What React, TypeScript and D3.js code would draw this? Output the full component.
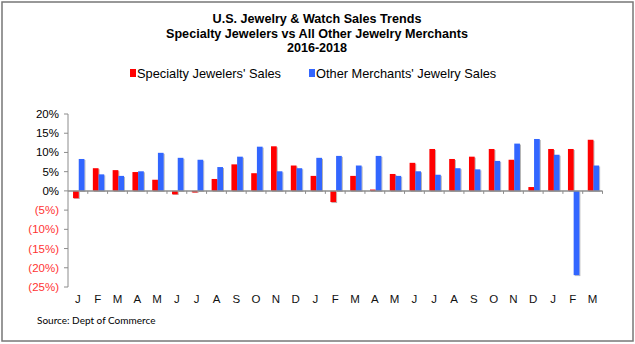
import React from "react";
import * as d3 from "d3";

const months = ["J","F","M","A","M","J","J","A","S","O","N","D","J","F","M","A","M","J","J","A","S","O","N","D","J","F","M"];
const specialty = [-1.9,5.9,5.4,4.9,2.9,-0.9,-0.4,3.1,6.9,4.6,11.6,6.6,3.9,-2.9,3.9,0.35,4.4,7.3,10.9,8.3,8.9,10.9,8.1,1.0,10.9,10.9,13.3];
const others = [8.3,4.3,3.9,5.1,9.9,8.6,8.1,6.2,8.9,11.5,5.1,5.9,8.6,9.1,6.6,9.1,3.9,5.1,4.2,5.9,5.6,7.8,12.3,13.5,9.4,-21.9,6.6];
const yTicks = [20,15,10,5,0,-5,-10,-15,-20,-25];
const titleLines = ["U.S. Jewelry & Watch Sales Trends","Specialty Jewelers vs All Other Jewelry Merchants","2016-2018"];
const seriesNames = ["Specialty Jewelers' Sales","Other Merchants' Jewelry Sales"];
const seriesColors = ["#FF0000","#3366FF"];

export default function App() {
  const W = 635, H = 344;
  const x0 = 68, x1 = 602.5;
  const idx = months.map((_, i) => i);
  const x = d3.scaleBand<number>().domain(idx).range([x0, x1]).paddingInner(0).paddingOuter(0);
  const inner = d3.scaleBand<number>().domain([0,1]).range([0, x.bandwidth()]).paddingInner(0).paddingOuter(0.74).align(0.6);
  const y = d3.scaleLinear().domain([-25, 20]).range([287, 114]);
  const y0 = y(0);
  const fmt = (v: number) => v < 0 ? `(${-v}%)` : `${v}%`;
  const axisColor = "#8c8c8c";
  const series = [specialty, others];

  return (
    <svg width={W} height={H} style={{position:"absolute", left:0, top:0}} xmlns="http://www.w3.org/2000/svg">
      <defs>
        <filter id="sh" x="-50%" y="-10%" width="200%" height="120%">
          <feDropShadow dx="1" dy="1" stdDeviation="0.7" floodColor="#000" floodOpacity="0.3" />
        </filter>
      </defs>
      <rect x={0} y={0} width={W} height={H} fill="#fff" />
      <rect x={2} y={2} width={631} height={339} fill="none" stroke="#777" strokeWidth={1.5} />
      {titleLines.map((t, i) => (
        <text key={i} x={317} y={23 + i * 14.5} textAnchor="middle" fontFamily="'Liberation Sans', Arial, sans-serif" fontWeight="bold" fontSize={12.6} fill="#000">{t}</text>
      ))}
      {/* legend */}
      <g fontFamily="'Liberation Sans', Arial, sans-serif" fontSize={12.8} fill="#000">
        <rect x={130} y={69} width={6} height={8} fill={seriesColors[0]} />
        <text x={137} y={78}>{seriesNames[0]}</text>
        <rect x={309} y={69} width={6} height={8} fill={seriesColors[1]} />
        <text x={316} y={78}>{seriesNames[1]}</text>
      </g>
      {/* y axis */}
      <line x1={x0} x2={x0} y1={y(20)} y2={y(-25)} stroke={axisColor} strokeWidth={1} />
      {yTicks.map(t => (
        <g key={t}>
          <line x1={x0 - 4} x2={x0} y1={y(t)} y2={y(t)} stroke={axisColor} />
          <text x={59} y={y(t) + 4} textAnchor="end" fontFamily="'Liberation Sans', Arial, sans-serif" fontSize={11.5} fill={t < 0 ? "#FF3333" : "#000"}>{fmt(t)}</text>
        </g>
      ))}
      {/* bars */}
      {idx.map(i => (
        <g key={i} transform={`translate(${x(i)},0)`}>
          {series.map((s, k) => {
            const v = s[i];
            return <rect key={k} x={inner(k)} width={inner.bandwidth()} y={Math.min(y(v), y0)} height={Math.abs(y(v) - y0)} fill={seriesColors[k]} filter="url(#sh)" />;
          })}
        </g>
      ))}
      {/* x axis */}
      <line x1={x0} x2={x1} y1={y0} y2={y0} stroke={axisColor} strokeWidth={1.5} />
      {idx.map(i => (
        <line key={i} x1={(x(i) as number) + x.bandwidth()} x2={(x(i) as number) + x.bandwidth()} y1={y0} y2={y0 + 3} stroke={axisColor} />
      ))}
      {idx.map(i => (
        <text key={i} x={(x(i) as number) + x.bandwidth() / 2} y={303} textAnchor="middle" fontFamily="'Liberation Sans', Arial, sans-serif" fontSize={11.5} fill="#111">{months[i]}</text>
      ))}
      <text x={37} y={324} fontFamily="Lato, 'Open Sans', sans-serif" fontSize={10} fill="#000">Source:  Dept of Commerce</text>
    </svg>
  );
}
